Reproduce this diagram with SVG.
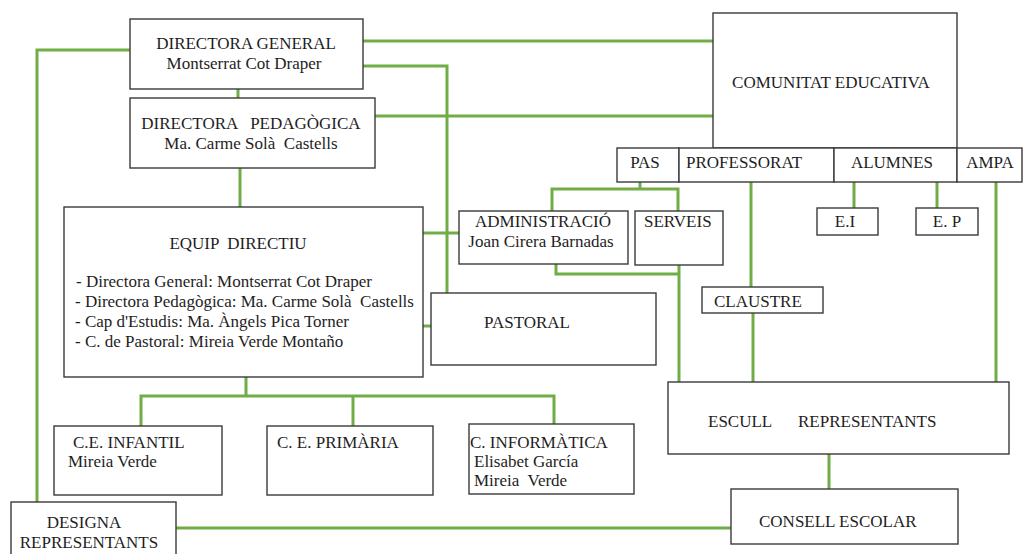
<svg xmlns="http://www.w3.org/2000/svg" width="1026" height="554" viewBox="0 0 1026 554" font-family="'Liberation Serif', 'Times New Roman', serif">
<style>
.box{fill:#fff;stroke:#3a3a3a;stroke-width:1.4}
.t{font-family:'Liberation Serif','Times New Roman',serif;font-size:17px;fill:#1e1e1e}
.c{text-anchor:middle}
.ln{fill:none;stroke:#70ad47;stroke-width:3;stroke-linejoin:miter}
</style>
<rect width="1026" height="554" fill="#fff"/>
<g id="connectors">
<path class="ln" d="M130,50 H37 V502"/>
<path class="ln" d="M363,41 H713"/>
<path class="ln" d="M363,66 H447 V293"/>
<path class="ln" d="M238,89 V98"/>
<path class="ln" d="M375,116 H713"/>
<path class="ln" d="M240,168 V207"/>
<path class="ln" d="M423,233 H459"/>
<path class="ln" d="M423,326 H431"/>
<path class="ln" d="M246,377 V396"/>
<path class="ln" d="M141,426 V396 H554 V424"/>
<path class="ln" d="M353,396 V426"/>
<path class="ln" d="M640,182 V189"/>
<path class="ln" d="M552,211 V189 H678 V211"/>
<path class="ln" d="M556,264 V274 H679"/>
<path class="ln" d="M679,265 V382"/>
<path class="ln" d="M751,182 V287"/>
<path class="ln" d="M753,313 V382"/>
<path class="ln" d="M854,182 V208"/>
<path class="ln" d="M937,182 V208"/>
<path class="ln" d="M996,182 V382"/>
<path class="ln" d="M829,454 V489"/>
<path class="ln" d="M176,528 H731"/>
</g>
<g id="directora-general">
<rect class="box" x="130" y="19" width="233" height="70"/>
<text class="t c" x="246" y="49">DIRECTORA GENERAL</text>
<text class="t c" x="244" y="69">Montserrat Cot Draper</text>
</g>
<g id="directora-pedagogica">
<rect class="box" x="130" y="98" width="245" height="70"/>
<text class="t c" x="251" y="129" xml:space="preserve">DIRECTORA   PEDAGÒGICA</text>
<text class="t c" x="251" y="149" xml:space="preserve">Ma. Carme Solà  Castells</text>
</g>
<g id="equip-directiu">
<rect class="box" x="64" y="207" width="359" height="170"/>
<text class="t c" x="238" y="249" xml:space="preserve">EQUIP  DIRECTIU</text>
<text class="t" x="76" y="287">- Directora General: Montserrat Cot Draper</text>
<text class="t" x="75" y="307" xml:space="preserve">- Directora Pedagògica: Ma. Carme Solà  Castells</text>
<text class="t" x="75" y="327">- Cap d'Estudis: Ma. Àngels Pica Torner</text>
<text class="t" x="75" y="347">- C. de Pastoral: Mireia  Verde Montaño</text>
</g>
<g id="comunitat-educativa">
<rect class="box" x="713" y="13" width="244" height="135"/>
<text class="t c" x="831" y="88">COMUNITAT EDUCATIVA</text>
</g>
<g id="pas">
<rect class="box" x="617" y="148" width="62" height="34"/>
<text class="t c" x="645" y="168">PAS</text>
</g>
<g id="professorat">
<rect class="box" x="679" y="148" width="155" height="34"/>
<text class="t" x="686" y="168">PROFESSORAT</text>
</g>
<g id="alumnes">
<rect class="box" x="834" y="148" width="123" height="34"/>
<text class="t c" x="892" y="168">ALUMNES</text>
</g>
<g id="ampa">
<rect class="box" x="957" y="148" width="65" height="34"/>
<text class="t c" x="990" y="168">AMPA</text>
</g>
<g id="administracio">
<rect class="box" x="459" y="211" width="169" height="53"/>
<text class="t c" x="543" y="227">ADMINISTRACIÓ</text>
<text class="t c" x="541" y="247">Joan Cirera Barnadas</text>
</g>
<g id="serveis">
<rect class="box" x="635" y="211" width="88" height="54"/>
<text class="t" x="644" y="227">SERVEIS</text>
</g>
<g id="ei">
<rect class="box" x="817" y="208" width="61" height="27"/>
<text class="t c" x="845" y="227">E.I</text>
</g>
<g id="ep">
<rect class="box" x="916" y="208" width="62" height="27"/>
<text class="t c" x="947" y="227">E. P</text>
</g>
<g id="pastoral">
<rect class="box" x="431" y="293" width="225" height="72"/>
<text class="t" x="484" y="328">PASTORAL</text>
</g>
<g id="claustre">
<rect class="box" x="702" y="287" width="121" height="26"/>
<text class="t" x="714" y="307">CLAUSTRE</text>
</g>
<g id="escull-representants">
<rect class="box" x="668" y="382" width="341" height="72"/>
<text class="t" y="427"><tspan x="708">ESCULL</tspan><tspan x="798">REPRESENTANTS</tspan></text>
</g>
<g id="ce-infantil">
<rect class="box" x="54" y="426" width="168" height="69"/>
<text class="t" x="73" y="448">C.E. INFANTIL</text>
<text class="t" x="68" y="467">Mireia Verde</text>
</g>
<g id="ce-primaria">
<rect class="box" x="267" y="426" width="166" height="69"/>
<text class="t" x="277" y="448">C. E. PRIMÀRIA</text>
</g>
<g id="c-informatica">
<rect class="box" x="469" y="424" width="165" height="70"/>
<text class="t" x="470" y="448">C. INFORMÀTICA</text>
<text class="t" x="474" y="467">Elisabet García</text>
<text class="t" x="474" y="486" xml:space="preserve">Mireia  Verde</text>
</g>
<g id="designa-representants">
<rect class="box" x="11" y="502" width="165" height="60"/>
<text class="t c" x="84" y="528">DESIGNA</text>
<text class="t c" x="89" y="548">REPRESENTANTS</text>
</g>
<g id="consell-escolar">
<rect class="box" x="731" y="489" width="227" height="55"/>
<text class="t" x="759" y="527">CONSELL ESCOLAR</text>
</g>
</svg>
